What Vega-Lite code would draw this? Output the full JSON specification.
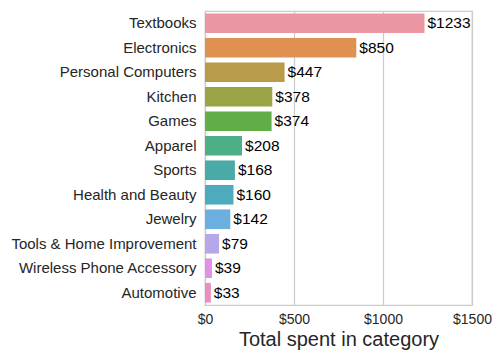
{
  "$schema": "https://vega.github.io/schema/vega-lite/v6.json",
  "width": 267,
  "height": 294,
  "autosize": "none",
  "padding": {"left": 205, "top": 11, "right": 32, "bottom": 55},
  "background": "white",
  "config": {
    "font": "Liberation Sans",
    "view": {"stroke": "#cccccc", "strokeWidth": 1.25},
    "axis": {"domain": false, "ticks": false, "labelColor": "#262626", "titleColor": "#262626", "labelFont": "Liberation Sans", "titleFont": "Liberation Sans", "labelLimit": 300}
  },
  "data": {
    "values": [
      {"category": "Textbooks", "total": 1233},
      {"category": "Electronics", "total": 850},
      {"category": "Personal Computers", "total": 447},
      {"category": "Kitchen", "total": 378},
      {"category": "Games", "total": 374},
      {"category": "Apparel", "total": 208},
      {"category": "Sports", "total": 168},
      {"category": "Health and Beauty", "total": 160},
      {"category": "Jewelry", "total": 142},
      {"category": "Tools & Home Improvement", "total": 79},
      {"category": "Wireless Phone Accessory", "total": 39},
      {"category": "Automotive", "total": 33}
    ]
  },
  "encoding": {
    "y": {
      "field": "category", "type": "nominal", "sort": null,
      "scale": {"paddingInner": 0.2, "paddingOuter": 0.1},
      "axis": {"title": null, "labelFontSize": 15, "labelPadding": 9, "grid": false}
    },
    "x": {
      "field": "total", "type": "quantitative",
      "scale": {"domain": [0, 1500], "nice": false},
      "axis": {"values": [0, 500, 1000, 1500], "format": "$d", "title": "Total spent in category", "labelFontSize": 14, "titleFontSize": 20, "titleFontWeight": "normal", "labelPadding": 7, "titlePadding": 3, "grid": true, "gridColor": "#cccccc", "gridWidth": 1.25, "labelFlush": false}
    }
  },
  "layer": [
    {
      "mark": {"type": "bar"},
      "encoding": {
        "color": {
          "field": "category", "type": "nominal", "sort": null, "legend": null,
          "scale": {"range": ["#ea96a3", "#e09152", "#b89c49", "#9aa447", "#61ad46", "#4caf88", "#4aaaa6", "#4eabbe", "#6caee0", "#b5a7e8", "#e28fe6", "#e88fc0"]}
        }
      }
    },
    {
      "mark": {"type": "text", "align": "left", "baseline": "middle", "dx": 3, "fontSize": 15.5, "color": "#000000"},
      "encoding": {
        "text": {"field": "total", "type": "quantitative", "format": "$d"}
      }
    }
  ]
}
